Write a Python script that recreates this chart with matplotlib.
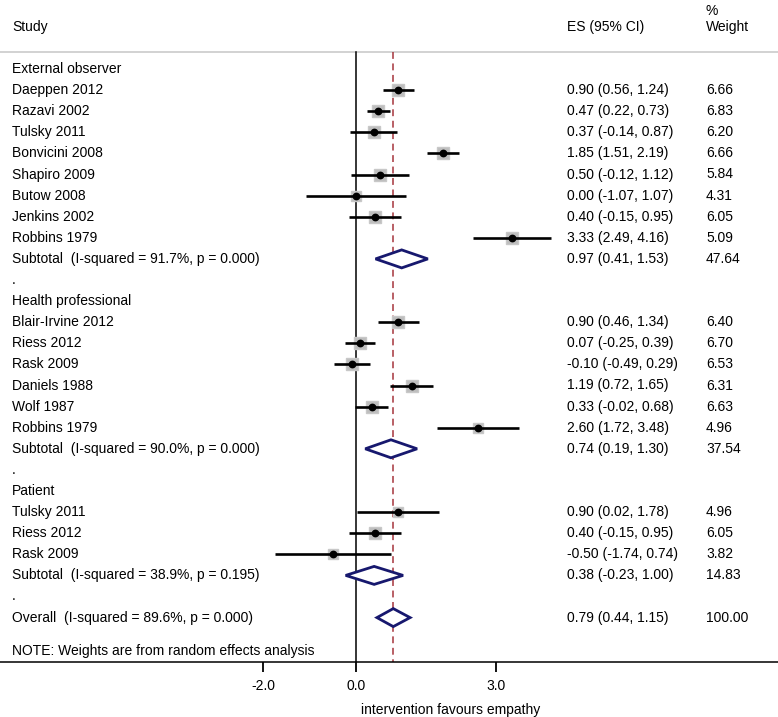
import matplotlib
matplotlib.use("Agg")
import matplotlib.pyplot as plt
from matplotlib.patches import Polygon
import numpy as np

plt.rcParams['font.family'] = ['Liberation Sans', 'DejaVu Sans']

# ---- data ----
ext_studies = ["Daeppen 2012", "Razavi 2002", "Tulsky 2011", "Bonvicini 2008",
               "Shapiro 2009", "Butow 2008", "Jenkins 2002", "Robbins 1979"]
ext_es = [0.90, 0.47, 0.37, 1.85, 0.50, 0.00, 0.40, 3.33]
ext_lo = [0.56, 0.22, -0.14, 1.51, -0.12, -1.07, -0.15, 2.49]
ext_hi = [1.24, 0.73, 0.87, 2.19, 1.12, 1.07, 0.95, 4.16]
ext_w = [6.66, 6.83, 6.20, 6.66, 5.84, 4.31, 6.05, 5.09]
ext_sub = [0.97, 0.41, 1.53, 47.64]
ext_i2 = "91.7%"
ext_p = "0.000"

hp_studies = ["Blair-Irvine 2012", "Riess 2012", "Rask 2009", "Daniels 1988",
              "Wolf 1987", "Robbins 1979"]
hp_es = [0.90, 0.07, -0.10, 1.19, 0.33, 2.60]
hp_lo = [0.46, -0.25, -0.49, 0.72, -0.02, 1.72]
hp_hi = [1.34, 0.39, 0.29, 1.65, 0.68, 3.48]
hp_w = [6.40, 6.70, 6.53, 6.31, 6.63, 4.96]
hp_sub = [0.74, 0.19, 1.30, 37.54]
hp_i2 = "90.0%"
hp_p = "0.000"

pt_studies = ["Tulsky 2011", "Riess 2012", "Rask 2009"]
pt_es = [0.90, 0.40, -0.50]
pt_lo = [0.02, -0.15, -1.74]
pt_hi = [1.78, 0.95, 0.74]
pt_w = [4.96, 6.05, 3.82]
pt_sub = [0.38, -0.23, 1.00, 14.83]
pt_i2 = "38.9%"
pt_p = "0.195"

overall = [0.79, 0.44, 1.15, 100.00]
overall_i2 = "89.6%"
overall_p = "0.000"

group_names = ["External observer", "Health professional", "Patient"]
groups = [
    (ext_studies, ext_es, ext_lo, ext_hi, ext_w, ext_sub, ext_i2, ext_p),
    (hp_studies, hp_es, hp_lo, hp_hi, hp_w, hp_sub, hp_i2, hp_p),
    (pt_studies, pt_es, pt_lo, pt_hi, pt_w, pt_sub, pt_i2, pt_p),
]
xticks = [-2, 0, 3]
xticklabels = ["-2.0", "0.0", "3.0"]

# ---- layout ----
W, H = 778, 717
fig = plt.figure(figsize=(W / 100, H / 100), dpi=100)
axis_y = 662
ax = fig.add_axes([0, (H - axis_y) / H, 1, axis_y / H])
x0px, scale = 356.4, 46.68
ax.set_xlim(-x0px / scale, (W - x0px) / scale)
ax.set_ylim(axis_y, 0)

def px(x):
    return (x - x0px) / scale

FS = 10
row0, dy = 69, 21.1
col_study, col_es, col_w = px(12), px(567), px(706)

def row_y(i):
    return row0 + dy * i

def fmt(es, lo, hi):
    return f"{es:.2f} ({lo:.2f}, {hi:.2f})"

def diamond(es, lo, hi, y):
    h = 9
    poly = Polygon([[lo, y], [es, y - h], [hi, y], [es, y + h]], closed=True,
                   facecolor='white', edgecolor='#17186e', lw=2.0, zorder=4,
                   joinstyle='miter')
    ax.add_patch(poly)

# headers
ax.text(col_study, 27, "Study", fontsize=FS, va='center', ha='left')
ax.text(col_es, 27, "ES (95% CI)", fontsize=FS, va='center', ha='left')
ax.text(col_w, 27, "Weight", fontsize=FS, va='center', ha='left')
ax.text(col_w, 11, "%", fontsize=FS, va='center', ha='left')
ax.plot([px(0), px(W)], [52, 52], color='#cfcfcf', lw=1.3, zorder=1,
        solid_capstyle='butt')

# reference lines
ax.plot([0, 0], [52, axis_y], color='black', lw=1.1, zorder=2)
ax.plot([overall[0], overall[0]], [52, axis_y], color='#a5343c', lw=1.1,
        ls=(0, (4.5, 3)), zorder=2)

i = 0
for gname, (studies, es, lo, hi, w, sub, i2, p) in zip(group_names, groups):
    ax.text(col_study, row_y(i), gname, fontsize=FS, va='center')
    i += 1
    for s, e, l, h, ww in zip(studies, es, lo, hi, w):
        y = row_y(i)
        side = 4.92 * np.sqrt(ww) * 72 / 100
        ax.plot([e], [y], marker='s', ms=side, color='#bdbdbd',
                mec='#c8c8c8', zorder=3)
        ax.plot([l, h], [y, y], color='black', lw=1.9, zorder=4,
                solid_capstyle='butt')
        ax.plot([e], [y], marker='o', ms=4.6, color='black', zorder=5)
        ax.text(col_study, y, s, fontsize=FS, va='center')
        ax.text(col_es, y, fmt(e, l, h), fontsize=FS, va='center')
        ax.text(col_w, y, f"{ww:.2f}", fontsize=FS, va='center')
        i += 1
    y = row_y(i)
    diamond(sub[0], sub[1], sub[2], y)
    ax.text(col_study, y, f"Subtotal  (I-squared = {i2}, p = {p})",
            fontsize=FS, va='center')
    ax.text(col_es, y, fmt(sub[0], sub[1], sub[2]), fontsize=FS, va='center')
    ax.text(col_w, y, f"{sub[3]:.2f}", fontsize=FS, va='center')
    i += 1
    ax.text(col_study, row_y(i), ".", fontsize=FS, va='center')
    i += 1

y = row_y(i)
diamond(overall[0], overall[1], overall[2], y)
ax.text(col_study, y, f"Overall  (I-squared = {overall_i2}, p = {overall_p})",
        fontsize=FS, va='center')
ax.text(col_es, y, fmt(overall[0], overall[1], overall[2]), fontsize=FS, va='center')
ax.text(col_w, y, f"{overall[3]:.2f}", fontsize=FS, va='center')
ax.text(col_study, row_y(i + 1.6), "NOTE: Weights are from random effects analysis",
        fontsize=FS, va='center')

# axis
for s in ['top', 'left', 'right']:
    ax.spines[s].set_visible(False)
ax.spines['bottom'].set_linewidth(1.1)
ax.set_yticks([])
ax.set_xticks(xticks)
ax.set_xticklabels(xticklabels, fontsize=FS)
ax.tick_params(axis='x', length=7.5, width=1.3, pad=5, direction='out')
fig.text(451 / W, 1 - 710 / H, "intervention favours empathy", fontsize=FS,
         ha='center', va='center')

fig.savefig("out.png", dpi=100)
